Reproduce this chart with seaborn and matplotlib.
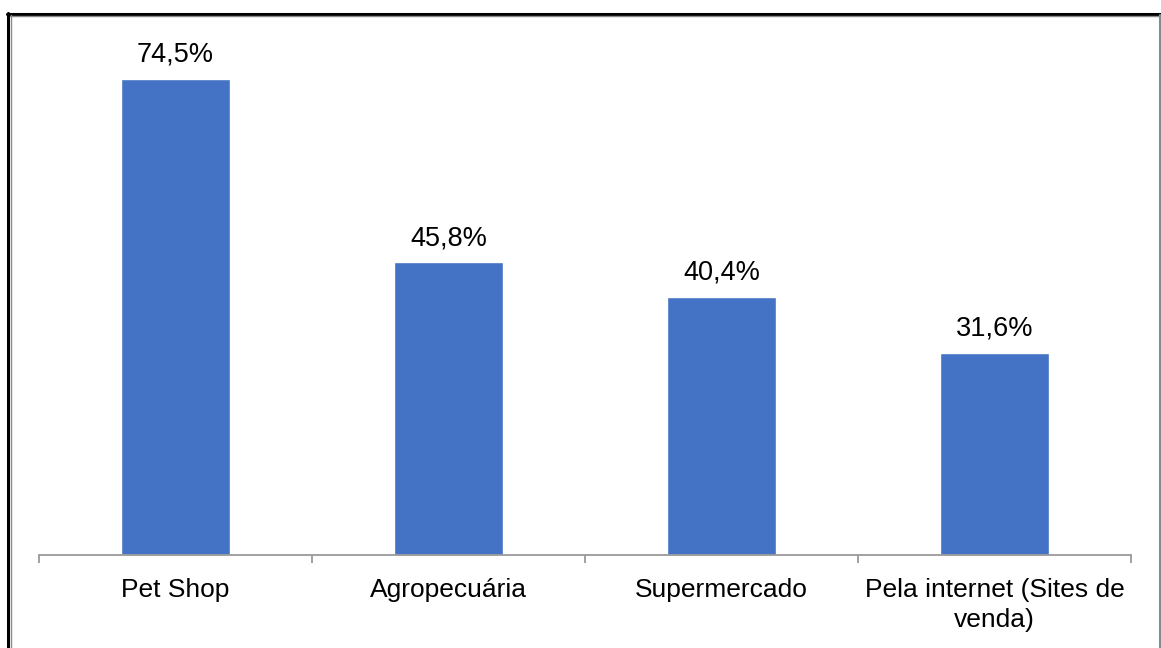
import matplotlib
matplotlib.use("Agg")
import matplotlib.pyplot as plt
from matplotlib.lines import Line2D
from matplotlib.ticker import FixedLocator
import seaborn as sns
import pandas as pd

# Onde os tutores compram produtos para os pets
canais = ["Pet Shop", "Agropecuária", "Supermercado", "Pela internet (Sites de\nvenda)"]
percentuais = [74.5, 45.8, 40.4, 31.6]
rotulos = ["74,5%", "45,8%", "40,4%", "31,6%"]

sns.set_theme(style="white")
plt.rcParams["font.family"] = ["Liberation Sans", "DejaVu Sans"]

W, H = 1161, 648
fig = plt.figure(figsize=(W / 100, H / 100), dpi=100)
ax = fig.add_axes([39 / W, 1 - 555 / H, (1131 - 39) / W, (555 - 44) / H])

df = pd.DataFrame({"canal": canais, "pct": percentuais})
sns.barplot(data=df, x="canal", y="pct", color="#4472C4", saturation=1,
            width=0.4, ax=ax)

ax.set_xlim(-0.5, len(canais) - 0.5)
ax.set_ylim(0, 80)
ax.set_xlabel("")
ax.set_ylabel("")
ax.set_yticks([])

for s in ["top", "right", "left"]:
    ax.spines[s].set_visible(False)
ax.spines["bottom"].set_color("#9a9a9a")
ax.spines["bottom"].set_linewidth(1.3)

# separators between categories drawn as minor ticks
ax.xaxis.set_minor_locator(FixedLocator([i - 0.5 for i in range(len(canais) + 1)]))
ax.tick_params(axis="x", which="minor", bottom=True, length=6, width=1.3,
               color="#9a9a9a")
ax.tick_params(axis="x", which="major", bottom=False, length=0, pad=16.5,
               labelsize=19, labelcolor="black")
for t in ax.get_xticklabels():
    t.set_multialignment("center")
    t.set_linespacing(1.3)

for i, (v, lab) in enumerate(zip(percentuais, rotulos)):
    ax.annotate(lab, (i, v), xytext=(0, 12.5), textcoords="offset points",
                ha="center", va="baseline", fontsize=19.5, color="black")

# frame around the figure
def px(x, y):
    return x / W, 1 - y / H

fig.add_artist(Line2D(*zip(px(7, 13.5), px(1161, 13.5)), color="black", lw=2.2))
fig.add_artist(Line2D(*zip(px(10, 15.5), px(1159, 15.5)), color="#8a8a8a", lw=1.0))
fig.add_artist(Line2D(*zip(px(8, 12.5), px(8, 648)), color="black", lw=2.2))
fig.add_artist(Line2D(*zip(px(10.5, 15), px(10.5, 648)), color="#8a8a8a", lw=1.0))
fig.add_artist(Line2D(*zip(px(1159.5, 15), px(1159.5, 648)), color="#8a8a8a", lw=1.5))

fig.savefig("out.png", dpi=100)
